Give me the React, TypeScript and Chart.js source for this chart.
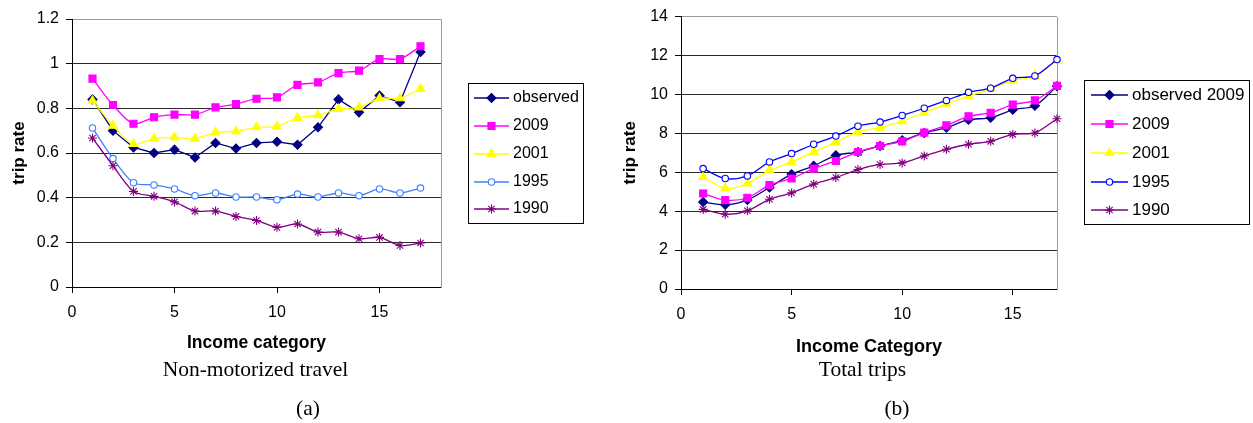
import React, { useEffect, useRef } from 'react';
import { Chart, registerables } from 'chart.js';
import { drawPoint } from 'chart.js/helpers';

Chart.register(...registerables);

const SANS = "'Liberation Sans', Arial, Helvetica, sans-serif";
const SERIF = "'Liberation Serif', 'Times New Roman', serif";

// ---------- data ----------
const incomeCategories = [1, 2, 3, 4, 5, 6, 7, 8, 9, 10, 11, 12, 13, 14, 15, 16, 17];

// (a) Non-motorized travel
const nmLabels = ['observed', '2009', '2001', '1995', '1990'];
const nmObserved = [0.84, 0.70, 0.625, 0.60, 0.615, 0.58, 0.645, 0.62, 0.645, 0.65, 0.637, 0.715, 0.84, 0.782, 0.857, 0.827, 1.052];
const nm2009 = [0.933, 0.815, 0.731, 0.76, 0.772, 0.772, 0.804, 0.819, 0.843, 0.849, 0.905, 0.916, 0.958, 0.969, 1.021, 1.021, 1.078];
const nm2001 = [0.834, 0.722, 0.64, 0.664, 0.67, 0.664, 0.692, 0.697, 0.715, 0.719, 0.757, 0.769, 0.797, 0.804, 0.845, 0.845, 0.888];
const nm1995 = [0.712, 0.575, 0.467, 0.457, 0.439, 0.409, 0.421, 0.403, 0.403, 0.391, 0.416, 0.403, 0.421, 0.409, 0.439, 0.421, 0.443];
const nm1990 = [0.667, 0.543, 0.428, 0.406, 0.381, 0.34, 0.34, 0.316, 0.298, 0.267, 0.282, 0.246, 0.246, 0.216, 0.222, 0.186, 0.197];
const nmYTicks = [0, 0.2, 0.4, 0.6, 0.8, 1, 1.2];
const nmXTicks = [0, 5, 10, 15];

// (b) Total trips
const ttLabels = ['observed 2009', '2009', '2001', '1995', '1990'];
const ttObserved = [4.47, 4.33, 4.57, 5.22, 5.9, 6.33, 6.87, 7.04, 7.35, 7.64, 8.02, 8.29, 8.7, 8.8, 9.21, 9.42, 10.42];
const tt2009 = [4.91, 4.57, 4.69, 5.34, 5.68, 6.19, 6.58, 7.04, 7.35, 7.59, 8.04, 8.41, 8.87, 9.06, 9.48, 9.69, 10.44];
const tt2001 = [5.76, 5.17, 5.42, 6.1, 6.53, 7.04, 7.55, 8.07, 8.29, 8.63, 9.06, 9.52, 9.91, 10.29, 10.71, 10.95, 11.74];
const tt1995 = [6.19, 5.68, 5.81, 6.53, 6.96, 7.44, 7.86, 8.37, 8.58, 8.92, 9.29, 9.69, 10.11, 10.32, 10.83, 10.95, 11.79];
const tt1990 = [4.09, 3.84, 4.02, 4.61, 4.94, 5.39, 5.73, 6.14, 6.4, 6.48, 6.84, 7.18, 7.44, 7.59, 7.95, 8.02, 8.75];
const ttYTicks = [0, 2, 4, 6, 8, 10, 12, 14];
const ttXTicks = [0, 5, 10, 15];

// ---------- styles ----------
type Sty = { color: string; style: string; radius: number; fill: string; tension: number };
const nmStyles: Sty[] = [
  { color: '#000080', style: 'rectRot', radius: 4.5, fill: '#000080', tension: 0 },
  { color: '#FF00FF', style: 'rect', radius: 5, fill: '#FF00FF', tension: 0.3 },
  { color: '#FFFF00', style: 'triangle', radius: 5, fill: '#FFFF00', tension: 0.3 },
  { color: '#3F7FFF', style: 'circle', radius: 3.2, fill: '#FFFFFF', tension: 0.3 },
  { color: '#800080', style: 'star', radius: 4.5, fill: '#800080', tension: 0.3 },
];
const ttStyles: Sty[] = [
  { color: '#000080', style: 'rectRot', radius: 4.5, fill: '#000080', tension: 0.3 },
  { color: '#FF00FF', style: 'rect', radius: 5, fill: '#FF00FF', tension: 0.3 },
  { color: '#FFFF00', style: 'triangle', radius: 5, fill: '#FFFF00', tension: 0.3 },
  { color: '#0000FF', style: 'circle', radius: 3.2, fill: '#FFFFFF', tension: 0.3 },
  { color: '#800080', style: 'star', radius: 4.5, fill: '#800080', tension: 0.3 },
];

function makeDatasets(labels: string[], series: number[][], styles: Sty[]) {
  return series.map((vals, i) => ({
    label: labels[i],
    data: incomeCategories.map((c, j) => ({ x: c, y: vals[j] })),
    borderColor: styles[i].color,
    borderWidth: 1.3,
    pointStyle: styles[i].style,
    pointRadius: styles[i].radius,
    pointBackgroundColor: styles[i].fill,
    pointBorderColor: styles[i].color,
    pointBorderWidth: 1.1,
    tension: styles[i].tension,
    clip: false as any,
    order: series.length - i,
  }));
}

type LegendBox = { x: number; y: number; w: number; h: number; rows: number[]; l0: number; l1: number; tx: number; fs: number };

function boxLegend(box: LegendBox) {
  return {
    id: 'boxLegend',
    afterDraw(chart: any) {
      const ctx = chart.ctx as CanvasRenderingContext2D;
      ctx.save();
      ctx.strokeStyle = '#000';
      ctx.lineWidth = 1;
      ctx.strokeRect(box.x + 0.5, box.y + 0.5, box.w, box.h);
      chart.data.datasets.forEach((ds: any, i: number) => {
        const y = box.rows[i];
        ctx.strokeStyle = ds.borderColor;
        ctx.lineWidth = ds.borderWidth;
        ctx.beginPath();
        ctx.moveTo(box.l0, y);
        ctx.lineTo(box.l1, y);
        ctx.stroke();
        ctx.fillStyle = ds.pointBackgroundColor;
        ctx.strokeStyle = ds.pointBorderColor;
        ctx.lineWidth = ds.pointBorderWidth;
        drawPoint(ctx, { pointStyle: ds.pointStyle, radius: ds.pointRadius, rotation: 0, borderWidth: ds.pointBorderWidth } as any, (box.l0 + box.l1) / 2, y);
        ctx.fillStyle = '#000';
        ctx.font = `${box.fs}px ${SANS}`;
        ctx.textBaseline = 'middle';
        ctx.textAlign = 'left';
        ctx.fillText(ds.label, box.tx, y);
      });
      ctx.restore();
    },
  };
}

const frame = {
  id: 'frame',
  beforeDatasetsDraw(chart: any) {
    const { ctx, chartArea } = chart;
    ctx.save();
    ctx.strokeStyle = '#9a9a9a';
    ctx.lineWidth = 1;
    const x = Math.round(chartArea.right) + 0.5;
    ctx.beginPath();
    ctx.moveTo(x, Math.round(chartArea.top));
    ctx.lineTo(x, Math.round(chartArea.bottom) + 1);
    ctx.stroke();
    ctx.restore();
  },
};

type Cfg = {
  W: number; H: number;
  area: { left: number; right: number; top: number; bottom: number };
  datasets: any[];
  yTicks: number[]; xTicks: number[]; xMax: number;
  xTitle: string; xTitleSize: number; xTitleY: number;
  yTitleX: number; xLabelPad: number;
  legend: LegendBox;
};

function makeConfig(c: Cfg): any {
  const yMax = c.yTicks[c.yTicks.length - 1];
  const yStep = c.yTicks[1] - c.yTicks[0];
  const xStep = c.xTicks[1] - c.xTicks[0];
  const yTitleSize = 17;
  return {
    type: 'line',
    data: { datasets: c.datasets },
    options: {
      animation: false,
      responsive: false,
      events: [],
      layout: {
        autoPadding: false,
        padding: { left: 0, top: c.area.top, right: c.W - c.area.right, bottom: 0 },
      },
      plugins: { legend: { display: false }, tooltip: { enabled: false } },
      scales: {
        x: {
          type: 'linear',
          min: 0,
          max: c.xMax,
          afterBuildTicks: (s: any) => {
            s.ticks = c.xTicks.map((v) => ({ value: v }));
          },
          afterFit: (s: any) => {
            s.height = c.H - c.area.bottom;
          },
          ticks: { stepSize: xStep, color: '#000', font: { family: SANS, size: 16 }, padding: c.xLabelPad, maxRotation: 0 },
          grid: { drawOnChartArea: false, tickLength: 6, tickColor: '#000', color: '#000' },
          border: { display: true, color: '#000', width: 1 },
          title: {
            display: true,
            text: c.xTitle,
            color: '#000',
            font: { family: SANS, size: c.xTitleSize, weight: 'bold' },
            padding: { top: 0, bottom: c.H - c.xTitleY - (c.xTitleSize * 1.2) / 2 },
          },
        },
        y: {
          type: 'linear',
          min: 0,
          max: yMax,
          afterBuildTicks: (s: any) => {
            s.ticks = c.yTicks.map((v) => ({ value: v }));
          },
          afterFit: (s: any) => {
            s.width = c.area.left;
          },
          ticks: {
            stepSize: yStep,
            color: '#000',
            font: { family: SANS, size: 16 },
            padding: 7,
            callback: (v: number) => String(Math.round(v * 10) / 10),
          },
          grid: {
            tickLength: 6,
            tickColor: '#000',
            color: (ctx: any) => (ctx.tick && Math.abs(ctx.tick.value - yMax) < 1e-9 ? '#9a9a9a' : '#2a2a2a'),
            lineWidth: 1,
          },
          border: { display: true, color: '#000', width: 1 },
          title: {
            display: true,
            text: 'trip rate',
            color: '#000',
            font: { family: SANS, size: yTitleSize, weight: 'bold' },
            padding: { top: Math.max(0, c.yTitleX - (yTitleSize * 1.2) / 2), bottom: 0 },
          },
        },
      },
    },
    plugins: [frame, boxLegend(c.legend)],
  };
}

function ChartCanvas({ cfg, left }: { cfg: Cfg; left: number }) {
  const ref = useRef<HTMLCanvasElement | null>(null);
  useEffect(() => {
    if (!ref.current) return;
    const chart = new Chart(ref.current, makeConfig(cfg));
    return () => chart.destroy();
  }, [cfg]);
  return (
    <canvas
      ref={ref}
      width={cfg.W}
      height={cfg.H}
      style={{ position: 'absolute', left, top: 0, width: cfg.W, height: cfg.H }}
    />
  );
}

const nmCfg: Cfg = {
  W: 620,
  H: 423,
  area: { left: 72, right: 441, top: 19, bottom: 287 },
  datasets: makeDatasets(nmLabels, [nmObserved, nm2009, nm2001, nm1995, nm1990], nmStyles),
  yTicks: nmYTicks,
  xTicks: nmXTicks,
  xMax: 18,
  xTitle: 'Income category',
  xTitleSize: 17.5,
  xTitleY: 343,
  yTitleX: 19,
  xLabelPad: 10,
  legend: { x: 468, y: 83, w: 115, h: 140, rows: [98, 126, 154, 182, 209], l0: 474, l1: 509, tx: 513, fs: 16 },
};

const ttCfg: Cfg = {
  W: 633,
  H: 423,
  area: { left: 61, right: 437, top: 16, bottom: 289 },
  datasets: makeDatasets(ttLabels, [ttObserved, tt2009, tt2001, tt1995, tt1990], ttStyles),
  yTicks: ttYTicks,
  xTicks: ttXTicks,
  xMax: 17,
  xTitle: 'Income Category',
  xTitleSize: 18,
  xTitleY: 347.5,
  yTitleX: 10.8,
  xLabelPad: 9.5,
  legend: { x: 464, y: 80, w: 165, h: 144, rows: [95, 124, 153, 182, 210], l0: 471, l1: 508, tx: 512, fs: 17 },
};

function Caption({ text, cx, top }: { text: string; cx: number; top: number }) {
  return (
    <div
      style={{
        position: 'absolute',
        left: cx - 150,
        top,
        width: 300,
        textAlign: 'center',
        fontFamily: SERIF,
        fontSize: 21.5,
        lineHeight: '21.5px',
        color: '#000',
        whiteSpace: 'nowrap',
      }}
    >
      {text}
    </div>
  );
}

export default function App() {
  return (
    <div style={{ position: 'absolute', left: 0, top: 0, width: 1253, height: 423, background: '#fff', overflow: 'hidden' }}>
      <ChartCanvas cfg={nmCfg} left={0} />
      <ChartCanvas cfg={ttCfg} left={620} />
      <Caption text="Non-motorized travel" cx={255.5} top={359} />
      <Caption text="(a)" cx={308} top={397.5} />
      <Caption text="Total trips" cx={862.5} top={359} />
      <Caption text="(b)" cx={897} top={398} />
    </div>
  );
}
